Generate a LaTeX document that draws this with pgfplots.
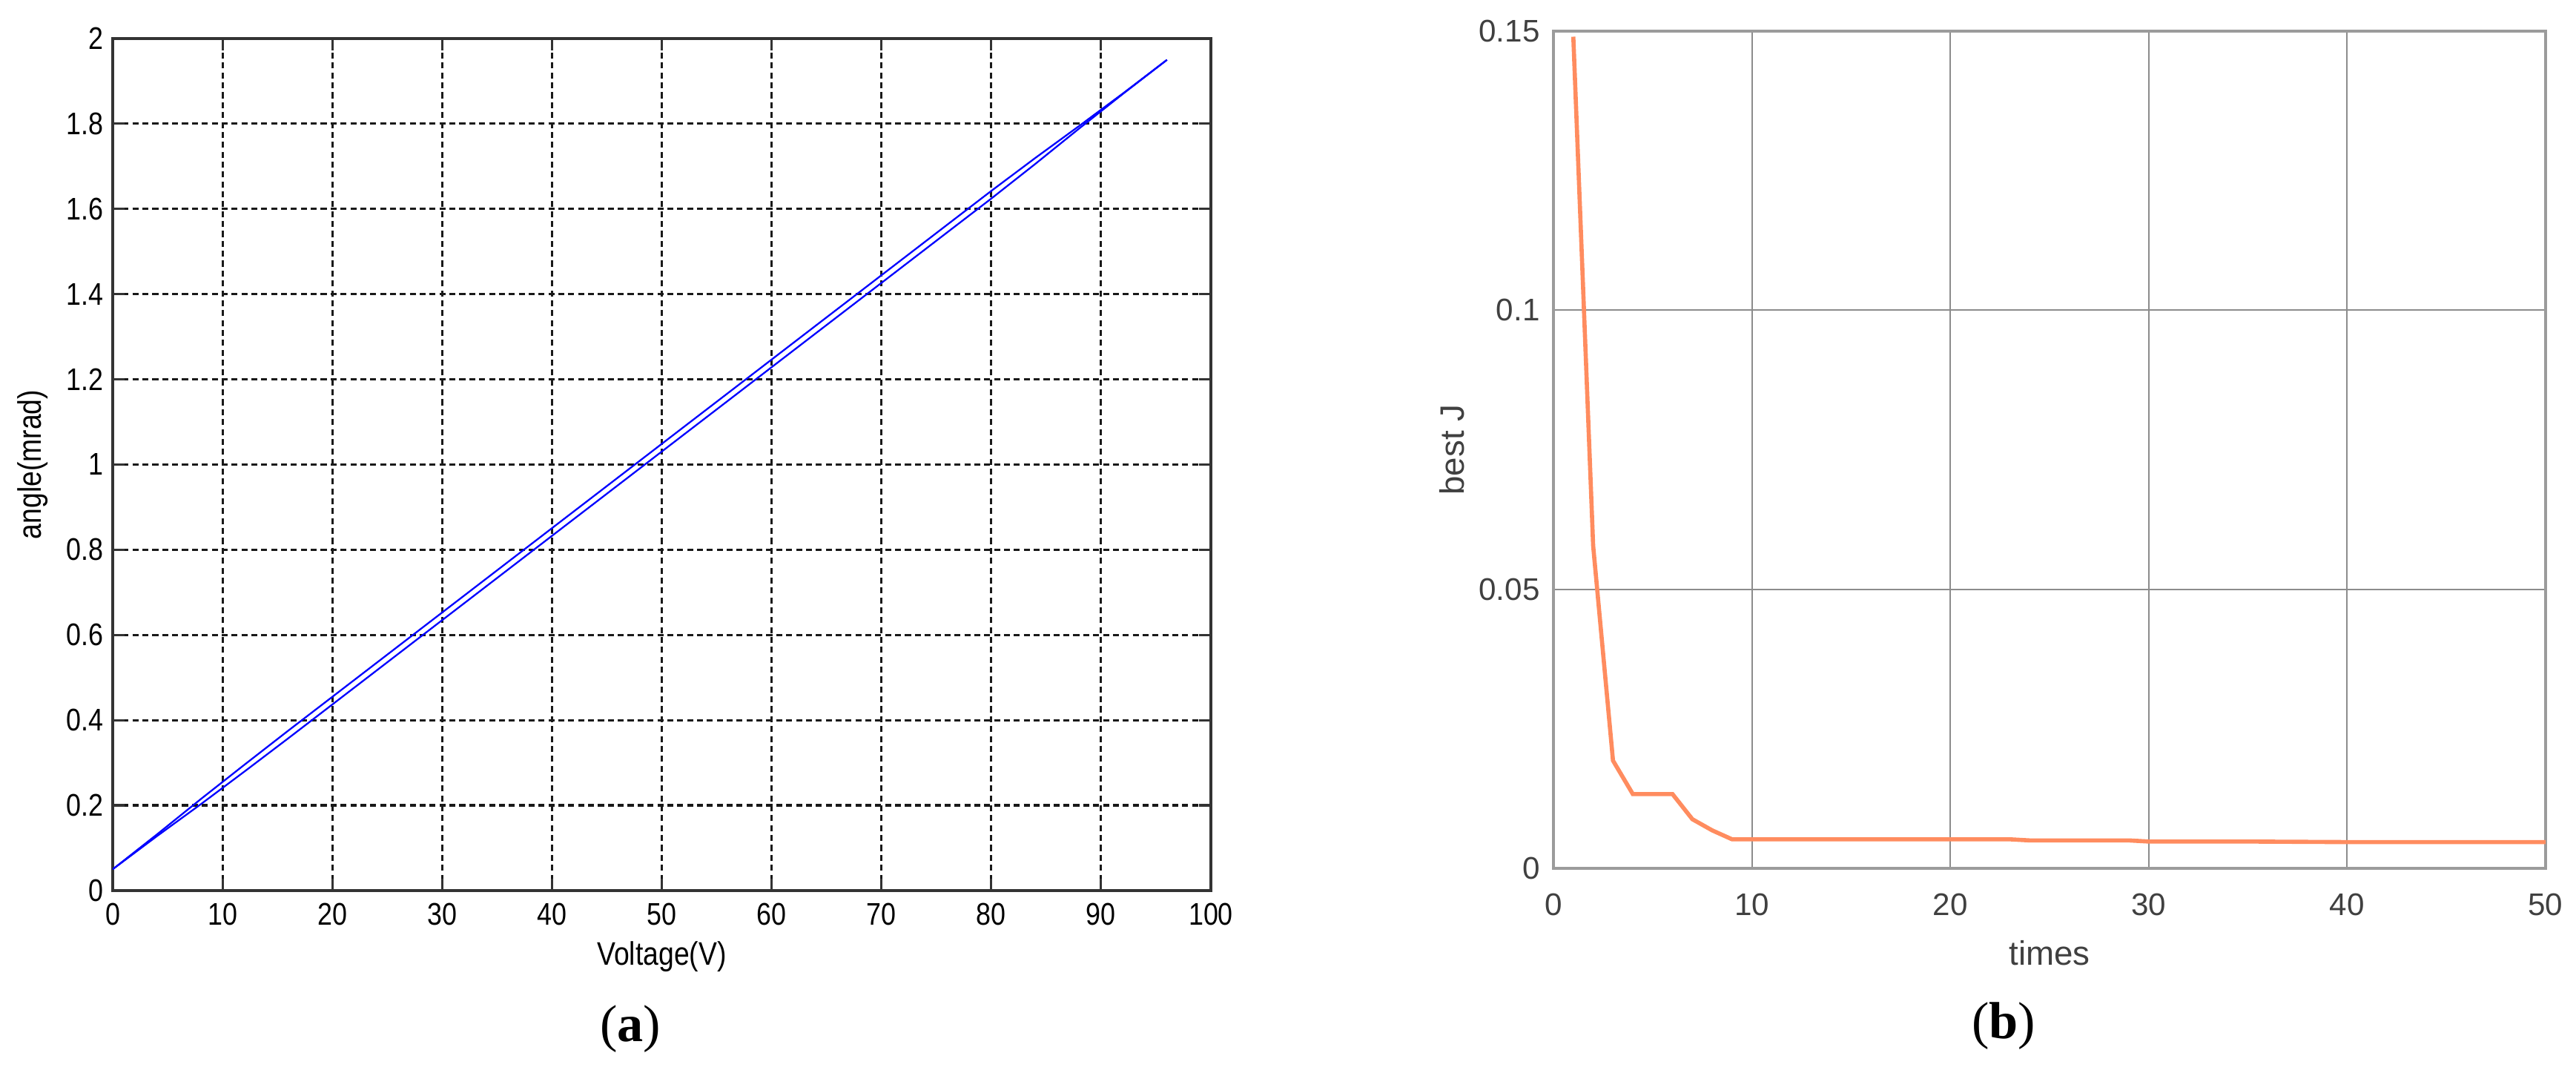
\documentclass[border=0pt]{standalone}
\usepackage{pgfplots}
\pgfplotsset{compat=1.18}
\usepackage{fontspec}
\setmainfont{Liberation Sans}
\newfontfamily\condfont[FakeStretch=0.85]{Liberation Sans}
\newfontfamily\seriffont{Liberation Serif}
\definecolor{jorange}{RGB}{255,140,95}
\definecolor{jaxis}{RGB}{155,155,155}
\definecolor{jgrid}{RGB}{140,140,140}
\definecolor{jtext}{RGB}{64,64,64}
\definecolor{mblue}{RGB}{0,0,255}

\pgfplotstableread{
x y
0 0.05
4 0.1272
8 0.2023
12 0.2795
16 0.3577
20 0.4368
24 0.5160
28 0.5952
32 0.6743
36 0.7535
40 0.8327
44 0.9118
48 0.9910
52 1.0702
56 1.1493
60 1.2285
64 1.3077
68 1.3868
72 1.4660
76 1.5452
80 1.6243
84 1.7055
88 1.7887
92 1.8703
96 1.95
}\ascending

\pgfplotstableread{
x y
96 1.95
92 1.8713
88 1.7947
84 1.7195
80 1.6423
76 1.5632
72 1.4840
68 1.4048
64 1.3257
60 1.2465
56 1.1673
52 1.0882
48 1.0090
44 0.9298
40 0.8507
36 0.7715
32 0.6923
28 0.6132
24 0.5340
20 0.4548
16 0.3757
12 0.2955
8 0.2143
4 0.1312
0 0.05
}\descending

\pgfplotstableread{
x y
1 0.149
2 0.0578
3 0.0193
4 0.0133
5 0.0133
6 0.0133
7 0.0088
8 0.0068
9 0.0052
10 0.0052
15 0.0052
20 0.0052
23 0.0052
24 0.0050
29 0.0050
30 0.0048
35 0.0048
40 0.0047
45 0.0047
50 0.0047
}\bestJ

\begin{document}
\begin{tikzpicture}
\useasboundingbox (0,0) rectangle (34.74,14.47);

% ---------------- (a) ----------------
\begin{axis}[
  at={(1.52cm,2.46cm)}, anchor=south west, scale only axis,
  width=14.81cm, height=11.49cm,
  xmin=0, xmax=100, ymin=0, ymax=2,
  xtick={0,10,20,30,40,50,60,70,80,90,100},
  xticklabels={0,10,20,30,40,50,60,70,80,90,100},
  ytick={0,0.2,0.4,0.6,0.8,1,1.2,1.4,1.6,1.8,2},
  yticklabels={0,0.2,0.4,0.6,0.8,1,1.2,1.4,1.6,1.8,2},
  /pgf/number format/assume math mode=true,
  grid=major,
  major grid style={black!90, line width=0.9pt, dash pattern=on 2.3pt off 1.5pt},
  axis line style={line width=1.1pt, color=black!80},
  tick style={black!80, line width=0.9pt},
  major tick length=0.16cm,
  tick align=inside,
  xtick pos=both, ytick pos=both,
  ticklabel style={font=\condfont\fontsize{12}{14}\selectfont},
  xticklabel style={yshift=-0.05cm},
  xlabel={Voltage(V)}, ylabel={angle(mrad)},
  label style={font=\condfont\fontsize{12.5}{15}\selectfont},
  xlabel style={at={(axis description cs:0.5,-0.0775)}, anchor=center},
  ylabel style={at={(axis description cs:-0.0729,0.5)}, anchor=center},
]
\addplot[mblue, line width=0.65pt] table[x=x,y=y] {\ascending};
\addplot[mblue, line width=0.65pt] table[x=x,y=y] {\descending};
\end{axis}

% ---------------- (b) ----------------
\begin{axis}[
  at={(20.95cm,2.76cm)}, anchor=south west, scale only axis,
  width=13.38cm, height=11.29cm,
  xmin=0, xmax=50, ymin=0, ymax=0.15,
  xtick={0,10,20,30,40,50},
  xticklabels={0,10,20,30,40,50},
  ytick={0,0.05,0.1,0.15},
  yticklabels={0,0.05,0.1,0.15},
  scaled y ticks=false,
  /pgf/number format/assume math mode=true,
  grid=major,
  major grid style={solid, jgrid, line width=0.6pt},
  axis line style={jaxis, line width=1.3pt},
  tick style={jgrid, line width=0.6pt},
  major tick length=0.1cm,
  tick align=inside,
  xtick pos=bottom, ytick pos=left,
  ticklabel style={font=\fontsize{12}{14}\selectfont, text=jtext},
  xticklabel style={yshift=-0.22cm},
  yticklabel style={xshift=-0.06cm},
  xlabel={times}, ylabel={best J},
  label style={font=\fontsize{13}{15}\selectfont, text=jtext},
  xlabel style={at={(axis description cs:0.5,-0.101)}, anchor=center},
  ylabel style={at={(axis description cs:-0.1024,0.5)}, anchor=center},
]
\addplot[jorange, line width=1.6pt] table[x=x,y=y] {\bestJ};
\end{axis}

\node[font=\seriffont\fontsize{20}{24}\selectfont] at (8.50,0.59) {(\textbf{a})};
\node[font=\seriffont\fontsize{20}{24}\selectfont] at (27.02,0.63) {(\textbf{b})};
\end{tikzpicture}
\end{document}
